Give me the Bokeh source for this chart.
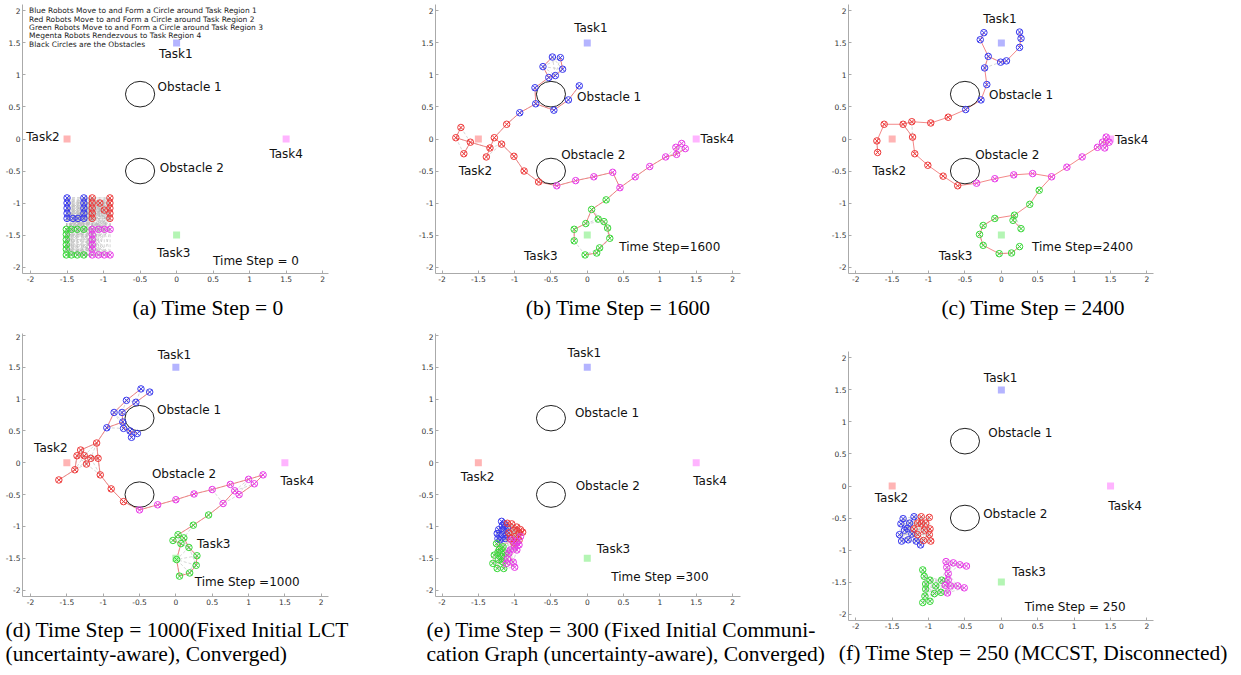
import math
from bokeh.plotting import figure
from bokeh.layouts import column, row
from bokeh.models import Range1d, Title, FixedTicker, Spacer
from bokeh.embed import file_html
from bokeh.resources import INLINE
from bokeh.core.properties import value

# ---------------- common data ----------------
tick_values = [-2, -1.5, -1, -0.5, 0, 0.5, 1, 1.5, 2]
tick_labels = ["-2", "-1.5", "-1", "-0.5", "0", "0.5", "1", "1.5", "2"]

task_names = ["Task1", "Task2", "Task3", "Task4"]
task_x = [0.0, -1.5, 0.0, 1.5]
task_y = [1.5, 0.0, -1.5, 0.0]
obstacle_names = ["Obstacle 1", "Obstacle 2"]
obstacle_x = [-0.5, -0.5]
obstacle_y = [0.7, -0.5]
obstacle_radius = [0.2, 0.2]

legend_lines = [
    "Blue Robots Move to and Form a Circle around Task Region 1",
    "Red Robots Move to and Form a Circle around Task Region 2",
    "Green Robots Move to and Form a Circle around Task Region 3",
    "Megenta Robots Rendezvous to Task Region 4",
    "Black Circles are the Obstacles",
]

# ---------------- (a) time step 0 : "UNCC" formation ----------------
a_blue = [(-1.50, -0.92), (-1.50, -1.00), (-1.50, -1.08), (-1.50, -1.16), (-1.50, -1.24),
          (-1.27, -0.92), (-1.27, -1.00), (-1.27, -1.08), (-1.27, -1.16), (-1.27, -1.24),
          (-1.42, -1.24), (-1.35, -1.24)]
a_red = [(-1.155, -0.92), (-1.155, -1.00), (-1.155, -1.08), (-1.155, -1.16), (-1.155, -1.24),
         (-0.913, -0.92), (-0.913, -1.00), (-0.913, -1.08), (-0.913, -1.16), (-0.913, -1.24),
         (-1.05, -1.00), (-0.99, -1.11)]
a_green = [(-1.51, -1.41), (-1.44, -1.41), (-1.36, -1.41), (-1.27, -1.41),
           (-1.51, -1.49), (-1.51, -1.57), (-1.51, -1.65), (-1.51, -1.72),
           (-1.51, -1.81), (-1.44, -1.81), (-1.36, -1.81), (-1.27, -1.81)]
a_magenta = [(-1.155, -1.41), (-1.07, -1.41), (-0.99, -1.41), (-0.91, -1.41),
             (-1.155, -1.49), (-1.155, -1.57), (-1.155, -1.65), (-1.155, -1.72),
             (-1.155, -1.81), (-1.07, -1.81), (-0.99, -1.81), (-0.91, -1.81)]
a_tree = []

# ---------------- (b) time step 1600 ----------------
b_blue = [(-0.61, 1.13), (-0.48, 1.28), (-0.37, 1.27), (-0.34, 1.09), (-0.53, 0.96), (-0.44, 0.99),
          (-0.72, 0.80), (-0.71, 0.55), (-0.46, 0.45), (-0.26, 0.61), (-0.11, 0.83), (-0.93, 0.41)]
b_red = [(-1.74, 0.18), (-1.81, 0.02), (-1.70, -0.23), (-1.61, -0.05), (-1.39, -0.28), (-1.34, -0.14),
         (-1.28, 0.02), (-1.18, -0.08), (-1.11, 0.23), (-1.01, -0.27), (-0.87, -0.50), (-0.67, -0.67)]
b_green = [(0.26, -0.95), (0.06, -1.10), (-0.02, -1.32), (0.15, -1.25), (0.23, -1.29), (0.28, -1.39),
           (0.31, -1.55), (0.17, -1.70), (0.13, -1.78), (-0.03, -1.81), (-0.18, -1.59), (-0.18, -1.41)]
b_magenta = [(-0.42, -0.73), (-0.16, -0.65), (0.09, -0.59), (0.35, -0.52), (0.45, -0.76), (0.66, -0.59),
             (0.86, -0.43), (1.08, -0.28), (1.23, -0.24), (1.22, -0.13), (1.30, -0.07), (1.35, -0.15)]
b_tree = ["b2-b1-b5-b6-b4-b3", "b5-b7-b8-b12-r9-r7-r8-r10-r11-r12-m1-m2-m3-m4-m5-m6-m7-m8-m9-m10-m11",
          "m9-m12", "b8-b9-b10-b11", "r7-r6-r5", "r6-r4-r2-r1", "r4-r3",
          "m5-g1-g2-g3-g12-g11", "g2-g4-g5-g6-g7-g8-g9-g10"]

# ---------------- (c) time step 2400 ----------------
c_blue = [(-0.24, 1.66), (-0.29, 1.55), (-0.18, 1.29), (-0.23, 1.11), (-0.01, 1.20), (0.07, 1.22),
          (0.25, 1.43), (0.27, 1.57), (0.25, 1.67), (-0.20, 0.85), (-0.28, 0.61), (-0.49, 0.46)]
c_red = [(-0.73, 0.34), (-0.97, 0.25), (-1.23, 0.27), (-1.35, 0.23), (-1.61, 0.23), (-1.71, -0.03),
         (-1.70, -0.21), (-1.22, 0.03), (-1.19, -0.23), (-1.01, -0.41), (-0.80, -0.58), (-0.60, -0.73)]
c_green = [(0.52, -0.80), (0.39, -1.02), (0.18, -1.19), (0.16, -1.27), (0.27, -1.40), (0.25, -1.68),
           (0.14, -1.78), (-0.03, -1.79), (-0.25, -1.66), (-0.30, -1.49), (-0.25, -1.35), (-0.09, -1.24)]
c_magenta = [(-0.34, -0.69), (-0.09, -0.62), (0.17, -0.56), (0.43, -0.54), (0.69, -0.59), (0.90, -0.44),
             (1.11, -0.28), (1.32, -0.13), (1.39, -0.05), (1.44, 0.03), (1.48, -0.05), (1.42, -0.14)]
c_tree = ["b1-b2-b3-b4-b10-b11-b12-r1-r2-r3-r4-r5-r6-r7", "b3-b5-b6-b7-b8-b9",
          "r4-r8-r9-r10-r11-r12-m1-m2-m3-m4-m5-m6-m7-m8-m9-m10", "m9-m11-m12",
          "m5-g1-g2-g3-g12-g11-g10-g9-g8-g7-g6", "g3-g4-g5"]

# ---------------- (d) time step 1000, fixed initial LCT ----------------
d_blue = [(-0.48, 1.16), (-0.36, 1.11), (-0.68, 0.98), (-0.55, 0.95), (-0.85, 0.79), (-0.74, 0.79),
          (-0.73, 0.64), (-0.95, 0.55), (-0.72, 0.54), (-0.63, 0.50), (-0.53, 0.46), (-0.61, 0.40)]
d_red = [(-1.09, 0.31), (-1.31, 0.20), (-1.36, 0.11), (-1.26, 0.11), (-1.17, 0.07), (-1.07, 0.07),
         (-1.23, -0.02), (-1.39, -0.11), (-1.61, -0.27), (-1.04, -0.19), (-0.89, -0.41), (-0.72, -0.61)]
d_green = [(0.45, -0.82), (0.24, -0.98), (0.03, -1.13), (-0.04, -1.22), (0.11, -1.18), (0.07, -1.27),
           (0.18, -1.33), (0.29, -1.46), (0.28, -1.61), (0.19, -1.73), (0.05, -1.78), (0.01, -1.52)]
d_magenta = [(-0.50, -0.74), (-0.25, -0.66), (0.00, -0.58), (0.25, -0.49), (0.50, -0.42), (0.75, -0.34),
             (0.81, -0.44), (0.87, -0.50), (0.65, -0.64), (1.00, -0.26), (1.08, -0.33), (1.20, -0.19)]
d_tree = ["b1-b3-b5-b8-r1-r2-r3-r8-r9", "b2-b4-b6-b7-b9-b10-b11", "b10-b12", "b7-b8",
          "r3-r4-r5-r6-r1", "r4-r7",
          "r6-r10-r11-r12-m1-m2-m3-m4-m5-m6-m10-m12-m11-m8-m7-m9-g1-g2-g3-g4-g6-g12-g11-g10-g9-g8-g7-g5-g3"]

# ---------------- (e) time step 300, fixed initial communication graph ----------------
e_blue = [(-1.18, -0.92), (-1.17, -0.99), (-1.22, -1.05), (-1.24, -1.11), (-1.23, -1.19), (-1.20, -1.21),
          (-1.14, -0.96), (-1.15, -1.06), (-1.11, -1.13), (-1.10, -1.02), (-1.17, -1.13), (-1.13, -1.19)]
e_red = [(-1.10, -0.95), (-1.04, -0.96), (-0.97, -1.01), (-0.92, -1.05), (-0.89, -1.09), (-0.94, -1.11),
         (-1.01, -1.06), (-1.08, -1.10), (-0.99, -1.16), (-1.06, -1.19), (-0.94, -1.22), (-1.01, -1.26)]
e_green = [(-1.25, -1.27), (-1.21, -1.36), (-1.23, -1.41), (-1.18, -1.47), (-1.22, -1.52), (-1.30, -1.58),
           (-1.24, -1.66), (-1.15, -1.66), (-1.16, -1.32), (-1.13, -1.42), (-1.17, -1.55), (-1.28, -1.45)]
e_magenta = [(-0.97, -1.24), (-1.00, -1.32), (-1.06, -1.37), (-1.08, -1.42), (-0.97, -1.37), (-1.02, -1.56),
             (-1.11, -1.58), (-1.00, -1.64), (-0.92, -1.16), (-1.04, -1.21), (-1.10, -1.51), (-0.94, -1.29)]
e_tree = ["r10-g9-g10-g11-g8", "r12-g1-g2-g12-g6", "b6-g3-g4-g5-g7", "r11-m1-m2-m3-m4-m6",
          "r9-m10-m5-m11-m7-m8", "m12-m9-r5"]

# ---------------- (f) time step 250, MCCST, disconnected ----------------
f_blue = [(-1.35, -0.51), (-1.38, -0.59), (-1.40, -0.76), (-1.37, -0.86), (-1.28, -0.84), (-1.20, -0.48),
          (-1.17, -0.86), (-1.11, -0.92), (-1.23, -0.75), (-1.29, -0.66), (-1.26, -0.58), (-1.33, -0.69)]
f_red = [(-1.10, -0.48), (-0.99, -0.49), (-0.98, -0.67), (-0.99, -0.76), (-0.97, -0.86), (-1.07, -0.85),
         (-1.06, -0.69), (-1.15, -0.58), (-1.04, -0.58), (-1.15, -0.76), (-1.20, -0.67), (-1.10, -0.59)]
f_green = [(-1.08, -1.31), (-1.06, -1.41), (-1.04, -1.53), (-1.04, -1.61), (-1.05, -1.72), (-1.08, -1.82),
           (-0.98, -1.80), (-0.98, -1.47), (-0.90, -1.56), (-0.82, -1.47), (-0.83, -1.66), (-0.92, -1.68)]
f_magenta = [(-0.76, -1.18), (-0.66, -1.20), (-0.57, -1.23), (-0.48, -1.25), (-0.75, -1.27), (-0.73, -1.37),
             (-0.73, -1.47), (-0.77, -1.55), (-0.70, -1.56), (-0.60, -1.56), (-0.51, -1.59), (-0.74, -1.67)]
f_tree = []

# ---------------- styles ----------------
robot_colors = {"b": "#3a3aee", "r": "#ee3a3a", "g": "#3ad83a", "m": "#e83ae8"}
task_colors = ["#b4b4ff", "#ffb4b4", "#b4f5b4", "#ffb4ff"]

TIMES_W = {" ": 250, "(": 333, ")": 333, "a": 444, "b": 500, "c": 444, "d": 500, "e": 444, "f": 333,
           "g": 500, "h": 500, "i": 278, "k": 500, "l": 278, "m": 778, "n": 500, "o": 500, "p": 500,
           "r": 333, "s": 389, "t": 278, "u": 500, "w": 722, "y": 500, "x": 500, "=": 564, ",": 250,
           "-": 333, "T": 611, "S": 556, "F": 556, "I": 333, "L": 611, "C": 667, "G": 722, "M": 889,
           "D": 722}
CAP_SIZE = 21.5


def text_w(s, size):
    return sum(TIMES_W.get(ch, 500) for ch in s) / 1000.0 * size


panels = [
    dict(key="a", pts=(a_blue, a_red, a_green, a_magenta), tree=a_tree, tree_alpha=0.8, link=0.42,
         labels=[("Task1", -0.01, 1.32, "center"), ("Obstacle 1", -0.26, 0.81, "left"),
                 ("Task2", -1.83, 0.03, "center"), ("Obstacle 2", -0.23, -0.45, "left"),
                 ("Task4", 1.50, -0.24, "center"), ("Task3", -0.04, -1.78, "center"),
                 ("Time Step = 0", 0.50, -1.91, "left")],
         caption="(a) Time Step = 0", mode="center", anchor=186,
         geom=(412, 333, 22, 84, 4, 60), xr=(-2.11, 2.08), yr=(-2.1, 2.1), standoff=19),
    dict(key="b", pts=(b_blue, b_red, b_green, b_magenta), tree=b_tree, tree_alpha=0.8, link=0.3,
         labels=[("Task1", 0.05, 1.73, "center"), ("Obstacle 1", -0.14, 0.66, "left"),
                 ("Task2", -1.54, -0.50, "center"), ("Obstacle 2", -0.36, -0.25, "left"),
                 ("Task4", 1.56, 0.0, "left"), ("Task3", -0.64, -1.82, "center"),
                 ("Time Step=1600", 0.44, -1.69, "left")],
         caption="(b) Time Step = 1600", mode="center", anchor=183,
         geom=(416, 333, 23, 88, 4, 60), xr=(-2.09, 2.11), yr=(-2.1, 2.1), standoff=19),
    dict(key="c", pts=(c_blue, c_red, c_green, c_magenta), tree=c_tree, tree_alpha=0.8, link=0.25,
         labels=[("Task1", -0.02, 1.87, "center"), ("Obstacle 1", -0.17, 0.68, "left"),
                 ("Task2", -1.54, -0.50, "center"), ("Obstacle 2", -0.36, -0.25, "left"),
                 ("Task4", 1.56, -0.01, "left"), ("Task3", -0.63, -1.82, "center"),
                 ("Time Step=2400", 0.42, -1.69, "left")],
         caption="(c) Time Step = 2400", mode="center", anchor=185,
         geom=(412, 333, 18, 87, 4, 60), xr=(-2.10, 2.09), yr=(-2.1, 2.1), standoff=19),
    dict(key="d", pts=(d_blue, d_red, d_green, d_magenta), tree=d_tree, tree_alpha=0.8, link=0.3,
         labels=[("Task1", -0.02, 1.69, "center"), ("Obstacle 1", -0.26, 0.83, "left"),
                 ("Task2", -1.72, 0.23, "center"), ("Obstacle 2", -0.33, -0.17, "left"),
                 ("Task4", 1.67, -0.28, "center"), ("Task3", 0.29, -1.28, "left"),
                 ("Time Step =1000", 0.26, -1.88, "left")],
         caption="(d) Time Step = 1000(Fixed Initial LCT\n(uncertainty-aware), Converged)",
         mode="left", anchor=-17,
         geom=(412, 342, 22, 84, 0, 79), xr=(-2.11, 2.10), yr=(-2.1, 2.03), standoff=16, pad=0),
    dict(key="e", pts=(e_blue, e_red, e_green, e_magenta), tree=e_tree, tree_alpha=0.3, link=0.2,
         labels=[("Task1", -0.04, 1.73, "center"), ("Obstacle 1", -0.17, 0.78, "left"),
                 ("Task2", -1.51, -0.23, "center"), ("Obstacle 2", -0.16, -0.37, "left"),
                 ("Task4", 1.69, -0.28, "center"), ("Task3", 0.13, -1.36, "left"),
                 ("Time Step =300", 0.33, -1.80, "left")],
         caption="(e) Time Step = 300 (Fixed Initial Communi-\ncation Graph (uncertainty-aware), Converged)",
         mode="left", anchor=-9,
         geom=(416, 342, 23, 88, 0, 79), xr=(-2.09, 2.11), yr=(-2.1, 2.03), standoff=16, pad=0),
    dict(key="f", pts=(f_blue, f_red, f_green, f_magenta), tree=f_tree, tree_alpha=0.8, link=0.25,
         labels=[("Task1", -0.01, 1.68, "center"), ("Obstacle 1", -0.18, 0.82, "left"),
                 ("Task2", -1.51, -0.19, "center"), ("Obstacle 2", -0.25, -0.44, "left"),
                 ("Task4", 1.70, -0.32, "center"), ("Task3", 0.15, -1.34, "left"),
                 ("Time Step = 250", 0.32, -1.89, "left")],
         caption="(f) Time Step = 250 (MCCST, Disconnected)", mode="center", anchor=186,
         geom=(412, 325, 18, 87, 1, 55), xr=(-2.10, 2.09), yr=(-2.1, 2.1), standoff=15, pad=17),
]


def build(pn):
    w, h, bl, br, bt, bb = pn["geom"]
    p = figure(width=w, height=h, x_range=Range1d(*pn["xr"]), y_range=Range1d(*pn["yr"]),
               output_backend="svg", toolbar_location=None, title=None,
               min_border_left=bl, min_border_right=br, min_border_top=bt, min_border_bottom=bb)
    p.outline_line_color = None
    p.grid.visible = False
    p.background_fill_color = "white"
    for ax in (p.xaxis[0], p.yaxis[0]):
        ax.ticker = FixedTicker(ticks=tick_values)
        ax.major_label_overrides = {v: s for v, s in zip(tick_values, tick_labels)}
        ax.major_label_text_font = "DejaVu Sans"
        ax.major_label_text_font_size = "7.5px"
        ax.major_label_text_color = "#333333"
        ax.major_label_standoff = 2
        ax.major_tick_in = 3
        ax.major_tick_out = 0
        ax.minor_tick_line_color = None
        ax.axis_line_color = "#aaaaaa"
        ax.major_tick_line_color = "#aaaaaa"

    groups = dict(zip("brgm", pn["pts"]))
    allp = [pt for k in "brgm" for pt in groups[k]]

    # communication links (within range), gray dashed
    lx, ly = [], []
    r = pn["link"]
    for i in range(len(allp)):
        for j in range(i + 1, len(allp)):
            (x1, y1), (x2, y2) = allp[i], allp[j]
            if math.hypot(x1 - x2, y1 - y2) <= r:
                lx.append([x1, x2])
                ly.append([y1, y2])
    if lx:
        p.multi_line(lx, ly, line_color="#b8b8b8", line_width=0.8, line_dash="3 2", line_alpha=0.7)

    # tree (red solid) edges
    tx, ty = [], []
    for ch in pn["tree"]:
        nodes = [groups[s[0]][int(s[1:]) - 1] for s in ch.split("-")]
        tx.append([q[0] for q in nodes])
        ty.append([q[1] for q in nodes])
    if tx:
        p.multi_line(tx, ty, line_color="#f06a6a", line_width=1, line_alpha=pn["tree_alpha"])

    # obstacles
    p.ellipse(obstacle_x, obstacle_y, width=[2 * v for v in obstacle_radius],
              height=[2 * v for v in obstacle_radius], fill_color=None, line_color="#222222", line_width=1)
    # tasks
    p.scatter(task_x, task_y, marker="square", size=7, fill_color=task_colors, line_color=None)

    # robots
    for k in "brgm":
        pts = groups[k]
        p.scatter([q[0] for q in pts], [q[1] for q in pts], marker="circle_x", size=6.5,
                  fill_color=None, line_color=robot_colors[k], line_width=1)

    # labels
    for align in ("left", "center"):
        lab = [l for l in pn["labels"] if l[3] == align]
        p.text([l[1] for l in lab], [l[2] for l in lab], text=[l[0] for l in lab],
               text_font=value("DejaVu Sans"), text_font_size="12px", text_color="#111111",
               text_align=align, text_baseline="middle")

    if pn["key"] == "a":
        ys = [2.0, 1.87, 1.74, 1.61, 1.48]
        p.text([-2.02] * 5, ys, text=legend_lines, text_font=value("DejaVu Sans"),
               text_font_size="7.5px", text_color="#222222", text_align="left", text_baseline="middle")

    # caption
    line = pn["caption"]
    if pn["mode"] == "center":
        off = pn["anchor"] - text_w(line, CAP_SIZE) / 2
    else:
        off = pn["anchor"]
    t = Title(text=line, align="left", offset=off, text_font="Liberation Serif",
              text_font_size=f"{CAP_SIZE}px", text_font_style="normal", text_color="#000000",
              text_line_height=1.0, standoff=pn["standoff"])
    p.add_layout(t, "below")
    if pn.get("pad"):
        return column(Spacer(width=w, height=pn["pad"]), p)
    return p


figs = [build(pn) for pn in panels]
layout = column(row(figs[0], figs[1], figs[2]), row(figs[3], figs[4], figs[5]))
open("out.html", "w").write(file_html(layout, INLINE))
